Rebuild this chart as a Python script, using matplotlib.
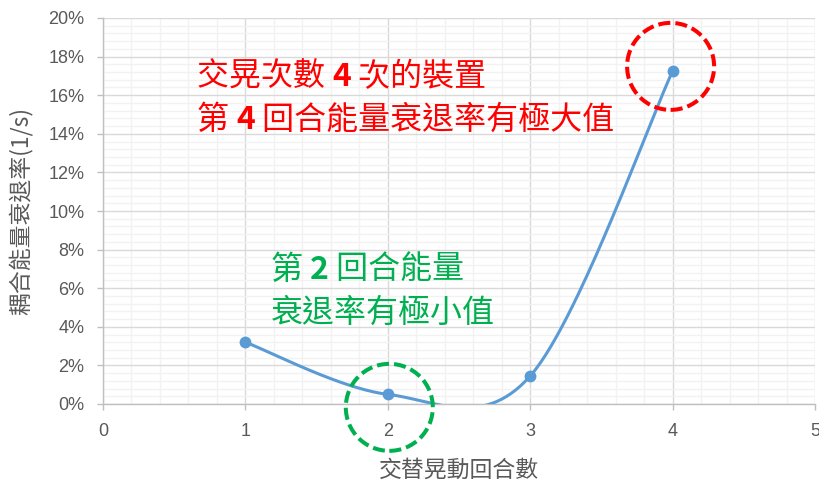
import numpy as np
import matplotlib
matplotlib.use("Agg")
import matplotlib.pyplot as plt
from matplotlib.patches import Ellipse
from matplotlib.ticker import MultipleLocator, FuncFormatter

# --- data -------------------------------------------------------------
rounds = [1, 2, 3, 4]
decay_rate_pct = [3.2, 0.5, 1.45, 17.25]
x_ticks = [0, 1, 2, 3, 4, 5]
y_ticks = [0, 2, 4, 6, 8, 10, 12, 14, 16, 18, 20]
x_label = "交替晃動回合數"
y_label = "耦合能量衰退率(1/s)"
note_max_lines = [
    [("交晃次數 ", False), ("4", True), (" 次的裝置", False)],
    [("第 ", False), ("4", True), (" 回合能量衰退率有極大值", False)],
]
note_min_lines = [
    [("第 ", False), ("2", True), (" 回合能量", False)],
    [("衰退率有極小值", False)],
]

W, H = 819, 482
CJK = ["Noto Sans CJK TC", "DejaVu Sans"]
LATIN = ["Liberation Sans", "DejaVu Sans"]
BLUE = "#5B9BD5"
GRAY_TXT = "#595959"
RED = "#FF0000"
GREEN = "#00B050"

fig = plt.figure(figsize=(W / 100, H / 100), dpi=100)
ax = fig.add_axes([103 / W, 1 - 404 / H, (815 - 103) / W, (404 - 18) / H])


def smooth_curve(xs, ys, n=60):
    """Catmull-Rom style Bezier smoothing through the points."""
    p = np.column_stack([xs, ys]).astype(float)
    pts = []
    for i in range(len(p) - 1):
        p_prev = p[i - 1] if i > 0 else p[i]
        p_next = p[i + 2] if i + 2 < len(p) else p[i + 1]
        c1 = p[i] + (p[i + 1] - p_prev) / 6.0
        c2 = p[i + 1] - (p_next - p[i]) / 6.0
        t = np.linspace(0, 1, n)[:, None]
        seg = ((1 - t) ** 3) * p[i] + 3 * ((1 - t) ** 2) * t * c1 \
            + 3 * (1 - t) * t ** 2 * c2 + t ** 3 * p[i + 1]
        pts.append(seg if i == 0 else seg[1:])
    pts = np.vstack(pts)
    return pts[:, 0], pts[:, 1]


sx, sy = smooth_curve(rounds, decay_rate_pct)
ax.plot(sx, sy, color=BLUE, lw=2.2, solid_capstyle="round", zorder=3)
ax.plot(rounds, decay_rate_pct, "o", color=BLUE, ms=7.5, zorder=4)

ax.set_xlim(x_ticks[0], x_ticks[-1])
ax.set_ylim(y_ticks[0], y_ticks[-1])
ax.set_xticks(x_ticks)
ax.set_yticks(y_ticks)
ax.xaxis.set_minor_locator(MultipleLocator(0.2))
ax.yaxis.set_minor_locator(MultipleLocator(0.4))
ax.yaxis.set_major_formatter(FuncFormatter(lambda v, _: f"{v:.0f}%"))

ax.set_axisbelow(True)
ax.grid(which="major", color="#D9D9D9", lw=1.0)
ax.grid(which="minor", color="#F2F2F2", lw=1.0)
for side in ("top", "right"):
    ax.spines[side].set_visible(False)
for side in ("left", "bottom"):
    ax.spines[side].set_color("#BFBFBF")
    ax.spines[side].set_linewidth(1.0)

ax.tick_params(which="major", direction="out", length=4.5, width=1,
               color="#BFBFBF", labelcolor=GRAY_TXT, labelsize=13)
ax.tick_params(axis="y", which="major", pad=9)
ax.tick_params(axis="x", which="major", pad=9)
ax.tick_params(which="minor", length=0)
for lab in ax.get_xticklabels() + ax.get_yticklabels():
    lab.set_family(LATIN)

ax.set_xlabel(x_label, family=CJK, fontsize=16.5, color=GRAY_TXT, va="center")
ax.xaxis.set_label_coords(0.5, (404 - 470) / (404 - 18))
ax.set_ylabel(y_label, family=CJK, fontsize=16.5, color=GRAY_TXT, va="center")
ax.yaxis.set_label_coords((22 - 103) / (815 - 103), (404 - 211) / (404 - 18))


def rich_line(x_px, y_px, pieces, color, size=23):
    prev = None
    for txt, bold in pieces:
        kw = dict(color=color, fontsize=size, family=CJK,
                  fontweight="bold" if bold else "normal")
        if prev is None:
            prev = fig.text(x_px / W, 1 - y_px / H, txt, ha="left", va="center", **kw)
        else:
            prev = ax.annotate(txt, xy=(1, 0), xycoords=prev, ha="left",
                               va="bottom", annotation_clip=False, **kw)


for i, line in enumerate(note_max_lines):
    rich_line(197, 77 + 43 * i, line, RED)
for i, line in enumerate(note_min_lines):
    rich_line(271, 270 + 43 * i, line, GREEN)


def dashed_ring(x, y, dx_px, dy_px, color, r_px=43.5):
    cx, cy = ax.transData.transform((x, y))
    cx += dx_px
    cy += dy_px
    ring = Ellipse((cx / W, cy / H), 2 * r_px / W, 2 * r_px / H,
                   transform=fig.transFigure, fill=False, edgecolor=color,
                   lw=2.9, linestyle=(0, (3, 1.25)), zorder=6)
    fig.add_artist(ring)


dashed_ring(rounds[3], decay_rate_pct[3], -2, 4.7, RED)
dashed_ring(rounds[1], decay_rate_pct[1], 1.5, -13, GREEN)

fig.savefig("out.png", dpi=100)
